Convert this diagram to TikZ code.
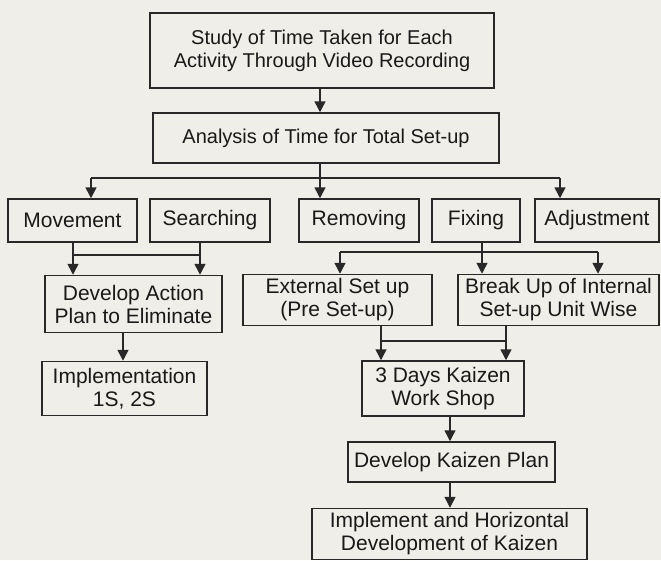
\documentclass[tikz,border=0pt]{standalone}
\usepackage{fontspec}
\setmainfont{Liberation Sans}
\usetikzlibrary{arrows.meta}
\definecolor{paper}{RGB}{240,238,232}
\definecolor{ink}{RGB}{40,40,40}
\definecolor{textink}{RGB}{25,25,25}
\begin{document}
\begin{tikzpicture}[x=1pt,y=-1pt,
  box/.style={draw=ink, text=textink, line width=1.5pt, inner sep=0pt, align=center,
    font=\fontsize{21}{23}\selectfont},
  topbox/.style={box, font=\fontsize{20}{23}\selectfont},
  link/.style={draw=ink, line width=1.5pt},
  arr/.style={link, -{Triangle[length=11pt,width=11pt]}}]
\fill[paper] (0,0) rectangle (661,560);
\useasboundingbox (0,0) rectangle (661,560);

% boxes
\node[topbox, minimum width=344, minimum height=75] (study) at (322,50.5)
  {Study of Time Taken for Each\\Activity Through Video Recording};
\node[topbox, minimum width=346, minimum height=50] (analysis) at (326,138)
  {Analysis of Time for Total Set-up};
\node[box, minimum width=129, minimum height=43] (movement) at (72.5,220.5) {Movement};
\node[box, minimum width=120, minimum height=43] (searching) at (210,220.5) {Searching};
\node[box, minimum width=120, minimum height=43] (removing) at (359,220.5) {Removing};
\node[box, minimum width=88, minimum height=43] (fixing) at (476,220.5) {Fixing};
\node[box, minimum width=124, minimum height=43] (adjust) at (597,220.5) {Adjustment};
\node[box, minimum width=177, minimum height=57] (action) at (133.5,304)
  {Develop Action\\Plan to Eliminate};
\node[box, minimum width=165, minimum height=54] (impl) at (124.5,388.5)
  {Implementation\\1S, 2S};
\node[box, minimum width=189, minimum height=51] (external) at (337.5,300)
  {External Set up\\(Pre Set-up)};
\node[box, minimum width=201, minimum height=51] (breakup) at (558.5,300)
  {Break Up of Internal\\Set-up Unit Wise};
\node[box, minimum width=162, minimum height=55] (days) at (443,388.5)
  {3 Days Kaizen\\Work Shop};
\node[box, minimum width=207, minimum height=40] (kplan) at (451.5,462)
  {Develop Kaizen Plan};
\node[box, minimum width=275, minimum height=51] (implement) at (449.5,534)
  {Implement and Horizontal\\Development of Kaizen};

% junction points
\coordinate (a1) at (320,0);
\coordinate (busL) at (91,178);
\coordinate (busM) at (320,178);
\coordinate (busR) at (560,178);
\coordinate (msL) at (73,255);
\coordinate (msR) at (200,255);
\coordinate (fxL) at (340,252);
\coordinate (fxM) at (482,252);
\coordinate (fxR) at (598,252);
\coordinate (ebL) at (381,341);
\coordinate (ebR) at (506,341);
\coordinate (k1) at (450,0);
\coordinate (d1) at (123,0);

% connectors
\draw[arr] (study.south -| a1) -- (analysis.north -| a1);
\draw[link] (analysis.south -| busM) -- (busM);
\draw[link] (busL) -- (busR);
\draw[arr] (busL) -- (movement.north -| busL);
\draw[arr] (busM) -- (removing.north -| busM);
\draw[arr] (busR) -- (adjust.north -| busR);

\draw[arr] (movement.south -| msL) -- (action.north -| msL);
\draw[arr] (searching.south -| msR) -- (action.north -| msR);
\draw[link] (msL) -- (msR);
\draw[arr] (action.south -| d1) -- (impl.north -| d1);

\draw[arr] (fixing.south -| fxM) -- (breakup.north -| fxM);
\draw[link] (fxL) -- (fxR);
\draw[arr] (fxL) -- (external.north -| fxL);
\draw[arr] (fxR) -- (breakup.north -| fxR);

\draw[arr] (external.south -| ebL) -- (days.north -| ebL);
\draw[arr] (breakup.south -| ebR) -- (days.north -| ebR);
\draw[link] (ebL) -- (ebR);

\draw[arr] (days.south -| k1) -- (kplan.north -| k1);
\draw[arr] (kplan.south -| k1) -- (implement.north -| k1);
\end{tikzpicture}
\end{document}
